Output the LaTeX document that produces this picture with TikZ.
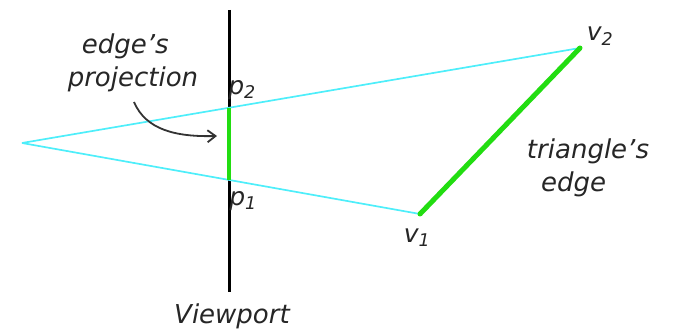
\documentclass[tikz,border=0pt]{standalone}
\usepackage{fontspec}
\setmainfont{DejaVu Sans}
\usepackage{xcolor}
\definecolor{raycyan}{HTML}{4EEEFA}
\definecolor{edgegreen}{HTML}{22DD11}
\definecolor{arrowgray}{HTML}{333333}
\usepackage{tikz}
\usetikzlibrary{
  positioning,
  arrows.meta
}

\begin{document}
\begin{tikzpicture}[
  x=1pt, y=-1pt,
  ray/.style={draw=raycyan, line width=1.7pt},
  projedge/.style={draw=edgegreen, line width=5pt},
  viewline/.style={draw=black, line width=3pt},
  lbl/.style={font=\fontsize{26}{33}\selectfont\itshape, text=black!85, align=center, inner sep=0pt},
  vlbl/.style={font=\fontsize{25}{28}\selectfont\itshape, text=black!85, inner sep=0pt}
]
\useasboundingbox (0,0) rectangle (673,336);

% points of the scene
\coordinate (eye) at (22,143);
\coordinate (vtop) at (229,10);
\coordinate (vbot) at (229,292);
\coordinate (p2) at (229,108);
\coordinate (p1) at (229,180);
\coordinate (v2) at (580,48);
\coordinate (v1) at (420,214);

% viewport and rays
\draw[viewline] (vtop) -- (vbot);
\draw[ray] (eye) -- (v2);
\draw[ray] (eye) -- (v1);
\draw[projedge, line width=4.5pt] (p1) -- (p2);
\draw[projedge, line cap=round] (v1) -- (v2);

% labels
\node[lbl] (proj) at (133,63) {edge's\hspace*{0.6em}\\projection};
\node[lbl] (tri) at (588,168) {triangle's\\edge\hspace*{1.1em}};
\node[lbl] (view) at (232,316) {Viewport};
\node[vlbl] (p2l) at (242,90) {p\textsubscript{2}};
\node[vlbl] (p1l) at (243,201) {p\textsubscript{1}};
\node[vlbl] (v2l) at (600,36) {v\textsubscript{2}};
\node[vlbl] (v1l) at (417,238) {v\textsubscript{1}};

% pointer from the text to the projected edge
\coordinate (tip) at (217,136);
\draw[arrowgray, line width=1.8pt, -{Straight Barb[length=8pt, width=12pt]}]
  (134,102) .. controls (146,130) and (176,137) .. (tip);

\end{tikzpicture}
\end{document}
